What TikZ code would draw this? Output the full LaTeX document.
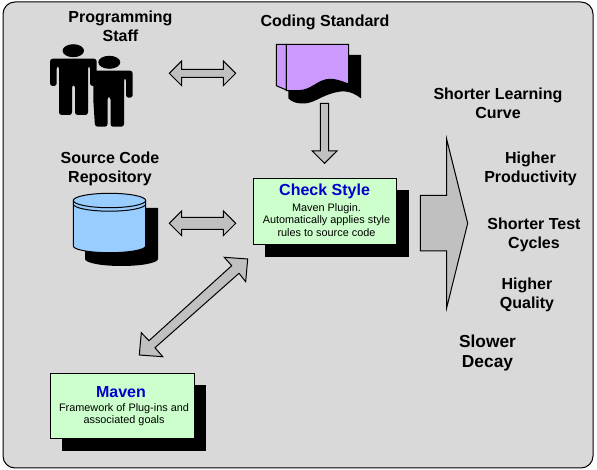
\documentclass[tikz,border=0pt]{standalone}
\usepackage{fontspec}
\setmainfont{Liberation Sans}
\definecolor{panelgrey}{HTML}{D9D9D9}
\definecolor{arrowgrey}{HTML}{C0C0C0}
\definecolor{boxgreen}{HTML}{CCFFCC}
\definecolor{docpurple}{HTML}{CC99FF}
\definecolor{cylblue}{HTML}{99CCFF}
\definecolor{titleblue}{HTML}{0000CC}
\tikzset{
  x=0.75pt,y=-0.75pt,
  line/.style={draw=black,line width=0.75pt,line join=miter},
  blockarrow/.style={line,fill=arrowgrey},
  caption/.style={font=\bfseries\fontsize{12}{14.2}\selectfont,align=center,inner sep=0pt,text=black},
  greenbox/.style={draw=black,line width=0.75pt,fill=boxgreen,inner sep=0pt,align=center},
  boxtitle/.style={font=\bfseries\fontsize{12}{14}\selectfont,text=titleblue,inner sep=0pt},
  boxtext/.style={align=center,inner sep=0pt,font=\fontsize{8.15}{9.1}\selectfont},
}
\begin{document}
\begin{tikzpicture}
\useasboundingbox (0,0) rectangle (597,470);
\fill[white] (0,0) rectangle (597,470);
\draw[line,fill=panelgrey,rounded corners=9pt] (3,2) rectangle (593,468);

% people
\fill[black] (73.3,50.7) ellipse [x radius=10.7,y radius=6.5];
\fill[black,rounded corners=2pt] (50,86) -- (50,58.7) -- (96.7,58.7) -- (96.7,86) -- (90,86) -- (90,66) -- (88,66) -- (88,115) -- (75,115) -- (75,85) -- (72,85) -- (72,115) -- (59,115) -- (59,66) -- (56.7,66) -- (56.7,86) -- cycle;
\fill[black] (109.3,62.3) ellipse [x radius=11,y radius=6.5];
\fill[black,rounded corners=2pt] (93.3,100) -- (93.3,70.7) -- (132.7,70.7) -- (132.7,97.7) -- (126,97.7) -- (126,78) -- (124,78) -- (124,126.7) -- (110.5,126.7) -- (110.5,96.7) -- (107.5,96.7) -- (107.5,126.7) -- (95,126.7) -- cycle;

\node[caption] (staff) at (120.5,26) {Programming\\Staff};
\node[caption] (standard) at (325,22.5) {Coding Standard};
\node[caption] (repo) at (110,169) {Source Code\\Repository};
\node[caption] (learning) at (498,103) {Shorter Learning\\Curve};
\node[caption] (productivity) at (530.5,169) {Higher\\Productivity};
\node[caption] (test) at (534,235) {Shorter Test\\Cycles};
\node[caption] (quality) at (527,295) {Higher\\Quality};
\node[caption,font=\bfseries\fontsize{13}{15}\selectfont] (decay) at (487.5,353.5) {Slower\\Decay};

% coding standard document
\fill[black] (298,55) -- (361,55) -- (361,98.3) .. controls (350,90) and (342,90) .. (330,94) .. controls (318,98) and (313,103.5) .. (303,103.5) .. controls (296,103.5) and (292,102) .. (288.3,98.3) -- (288.3,85) -- cycle;
\draw[line,fill=docpurple] (276.3,44.3) -- (286.3,44.3) -- (286.3,90) -- (276.3,85.7) -- cycle;
\draw[line,fill=docpurple] (286.3,44.3) -- (348.7,44.3) -- (348.7,84) .. controls (340,81) and (336,79.3) .. (330,79.3) .. controls (318,79.3) and (312,90.7) .. (298,90.7) .. controls (294,90.7) and (290,90.7) .. (286.3,90.7) -- cycle;

% repository cylinder
\fill[black] (85,208) -- (158,208) -- (158,259) arc [start angle=0,end angle=180,x radius=36.5,y radius=7] -- cycle;
\draw[line,fill=cylblue] (73.3,200.5) arc [start angle=180,end angle=360,x radius=36.2,y radius=7.2] -- (145.7,246) arc [start angle=0,end angle=180,x radius=36.2,y radius=6.7] -- cycle;
\draw[line] (73.3,200.5) arc [start angle=180,end angle=0,x radius=36.2,y radius=7.2];
\draw[line] (73.3,204) arc [start angle=180,end angle=0,x radius=36.2,y radius=7.2];

% check style box
\fill[black] (265,190) rectangle (409,257);
\node[greenbox,minimum width=143pt*0.75,minimum height=65.7pt*0.75,anchor=north west] (check) at (253.3,178.3) {};
\node[boxtitle] (checktitle) at (324.6,191.8) {Check Style};
\node[boxtext] (checktext) at (326.5,220) {Maven Plugin.\\Automatically applies style\\rules to source code};

% maven box
\fill[black] (62,385) rectangle (206,451);
\node[greenbox,minimum width=143.4pt*0.75,minimum height=65pt*0.75,anchor=north west] (maven) at (50.3,373.3) {};
\node[boxtitle] (maventitle) at (121,392) {Maven};
\node[boxtext] (maventext) at (124,414.5) {Framework of Plug-ins and\\associated goals};

% block arrows
\draw[blockarrow] (169.3,73.3) -- (181.7,61) -- (181.7,69.3) -- (223.3,69.3) -- (223.3,61) -- (235.7,73.3) -- (223.3,85.7) -- (223.3,77.3) -- (181.7,77.3) -- (181.7,85.7) -- cycle;
\draw[blockarrow] (169.3,223.3) -- (181.7,211) -- (181.7,217.3) -- (223.3,217.3) -- (223.3,211) -- (235.7,223.3) -- (223.3,235.7) -- (223.3,229.3) -- (181.7,229.3) -- (181.7,235.7) -- cycle;
\draw[blockarrow] (320.3,103.3) -- (328.7,103.3) -- (328.7,151) -- (337,151) -- (324.5,163.3) -- (312.3,151) -- (320.3,151) -- cycle;
\draw[blockarrow] (247.7,259) -- (224.3,257.3) -- (231.7,265.7) -- (149,340.7) -- (141.3,332.7) -- (139.3,355) -- (162.7,356.7) -- (155,347.7) -- (239,273.3) -- (245.7,281.7) -- cycle;
\draw[blockarrow] (420.3,195.3) -- (446.7,195.3) -- (446.7,139.3) -- (467.7,223.3) -- (446.7,307.7) -- (446.7,251) -- (420.3,251) -- cycle;
\end{tikzpicture}
\end{document}
